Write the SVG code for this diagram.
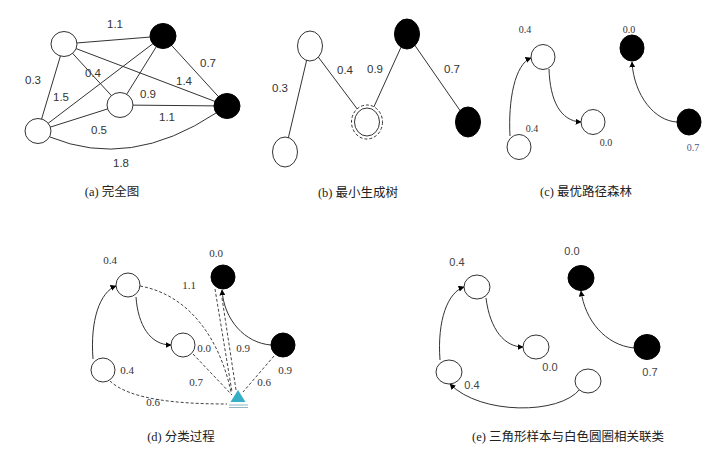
<svg xmlns="http://www.w3.org/2000/svg" width="711" height="452" viewBox="0 0 711 452">
<style>
.e{fill:none;stroke:#333;stroke-width:1}
.d{fill:none;stroke:#444;stroke-width:1;stroke-dasharray:3,2}
.w{fill:#fff;stroke:#333;stroke-width:1}
.b{fill:#000;stroke:#000;stroke-width:1}
.ls{font-family:"Liberation Sans",Arial,sans-serif;font-size:11.5px;fill:#333;text-anchor:middle}
.lt{font-family:"Liberation Serif","Times New Roman",serif;font-size:10px;fill:#333;text-anchor:middle}
.lt2{font-family:"Liberation Serif","Times New Roman",serif;font-size:11px;fill:#333;text-anchor:middle}
.le{font-family:"Liberation Sans",Arial,sans-serif;font-size:11px;fill:#444;text-anchor:middle}
.cap{font-family:"Liberation Serif","Noto Sans CJK SC",serif;font-size:12.5px;fill:#222;text-anchor:middle}
</style>
<defs>
<marker id="ar" viewBox="0 0 10 10" refX="9" refY="5" markerWidth="6" markerHeight="6" orient="auto" markerUnits="userSpaceOnUse">
<path d="M0,0 L10,5 L0,10 z" fill="#000"/>
</marker>
</defs>
<rect width="711" height="452" fill="#fff"/>

<!-- Panel a -->
<g id="connectors-a">
<line class="e" x1="64" y1="44" x2="163" y2="36"/>
<line class="e" x1="64" y1="44" x2="38" y2="131"/>
<line class="e" x1="64" y1="44" x2="120" y2="105"/>
<line class="e" x1="64" y1="44" x2="227" y2="106"/>
<line class="e" x1="38" y1="131" x2="163" y2="36"/>
<line class="e" x1="120" y1="105" x2="163" y2="36"/>
<line class="e" x1="163" y1="36" x2="227" y2="106"/>
<line class="e" x1="38" y1="131" x2="120" y2="105"/>
<line class="e" x1="120" y1="105" x2="227" y2="106"/>
<path class="e" d="M50,137 Q130,170 216,113"/>
</g>
<g id="a-n1"><ellipse class="w" cx="64" cy="44" rx="13" ry="12.5"/></g>
<g id="a-n2"><ellipse class="b" cx="163" cy="36" rx="13" ry="12.5"/></g>
<g id="a-n3"><ellipse class="w" cx="38" cy="131" rx="13" ry="12.5"/></g>
<g id="a-n4"><ellipse class="w" cx="120" cy="105" rx="13" ry="12.5"/></g>
<g id="a-n5"><ellipse class="b" cx="227" cy="106" rx="13" ry="12.5"/></g>
<g id="labels-a">
<text class="ls" x="115" y="28">1.1</text>
<text class="ls" x="33" y="84">0.3</text>
<text class="ls" x="93" y="77">0.4</text>
<text class="ls" x="61" y="101">1.5</text>
<text class="ls" x="148" y="98">0.9</text>
<text class="ls" x="184" y="85">1.4</text>
<text class="ls" x="208" y="67">0.7</text>
<text class="ls" x="167" y="121">1.1</text>
<text class="ls" x="99" y="134">0.5</text>
<text class="ls" x="121" y="167">1.8</text>
</g>
<text class="cap" x="112" y="196">(a) 完全图</text>

<!-- Panel b -->
<g id="connectors-b">
<line class="e" x1="285" y1="152" x2="310" y2="46"/>
<line class="e" x1="310" y1="46" x2="367" y2="122"/>
<line class="e" x1="367" y1="122" x2="407" y2="34"/>
<line class="e" x1="407" y1="34" x2="468" y2="122"/>
</g>
<g id="b-n1"><ellipse class="w" cx="310" cy="46" rx="12.5" ry="15"/></g>
<g id="b-n2"><ellipse class="w" cx="285" cy="152" rx="12.5" ry="15"/></g>
<g id="b-n3"><ellipse cx="367" cy="122" rx="15.5" ry="17" fill="#fff" stroke="#333" stroke-dasharray="3,2"/><ellipse class="w" cx="367" cy="122" rx="12.5" ry="14"/></g>
<g id="b-n4"><ellipse class="b" cx="407" cy="34" rx="12.5" ry="15"/></g>
<g id="b-n5"><ellipse class="b" cx="468" cy="122" rx="12.5" ry="15"/></g>
<g id="labels-b">
<text class="ls" x="280" y="92">0.3</text>
<text class="ls" x="345" y="74">0.4</text>
<text class="ls" x="375" y="73">0.9</text>
<text class="ls" x="452" y="73">0.7</text>
</g>
<text class="cap" x="358" y="197">(b) 最小生成树</text>

<!-- Panel c -->
<g id="connectors-c">
<path class="e" marker-end="url(#ar)" d="M510,136 C508,100 515,64 531,58"/>
<path class="e" marker-end="url(#ar)" d="M549,69 C550,100 560,121 581,122"/>
<path class="e" marker-end="url(#ar)" d="M677,122 C655,121 634,96 632,62"/>
</g>
<g id="c-n1"><ellipse class="w" cx="543" cy="57" rx="12" ry="12.5"/></g>
<g id="c-n2"><ellipse class="w" cx="519" cy="147" rx="12" ry="12.5"/></g>
<g id="c-n3"><ellipse class="w" cx="593" cy="122" rx="12" ry="12.5"/></g>
<g id="c-n4"><ellipse class="b" cx="632" cy="48" rx="12" ry="13"/></g>
<g id="c-n5"><ellipse class="b" cx="689" cy="122" rx="12" ry="13"/></g>
<g id="labels-c">
<text class="lt" x="525" y="33">0.4</text>
<text class="lt" x="532" y="132">0.4</text>
<text class="lt" x="606" y="146">0.0</text>
<text class="lt" x="629" y="33">0.0</text>
<text class="lt" x="693" y="151" style="fill:#4a5a85">0.7</text>
</g>
<text class="cap" x="586" y="196">(c) 最优路径森林</text>

<!-- Panel d -->
<g id="connectors-d">
<path class="e" marker-end="url(#ar)" d="M93,359 C90,320 100,292 116,286"/>
<path class="e" marker-end="url(#ar)" d="M136,297 C138,325 150,345 171,345"/>
<path class="e" marker-end="url(#ar)" d="M271,345 C245,343 224,320 222,290"/>
<path class="d" d="M140,286 C190,295 220,340 231,392"/>
<path class="d" d="M215,289 L232,392"/>
<path class="d" d="M222,298 L236,390"/>
<path class="d" d="M193,354 L232,395"/>
<path class="d" d="M110,381 C130,400 180,404 227,404"/>
<path class="d" d="M274,356 L243,392"/>
</g>
<g id="d-n1"><ellipse class="w" cx="128" cy="285" rx="12" ry="12"/></g>
<g id="d-n2"><ellipse class="w" cx="103" cy="370" rx="12" ry="12"/></g>
<g id="d-n3"><ellipse class="w" cx="183" cy="345" rx="12" ry="12"/></g>
<g id="d-n4"><ellipse class="b" cx="223" cy="277" rx="12" ry="12"/></g>
<g id="d-n5"><ellipse class="b" cx="283" cy="345" rx="12" ry="12"/></g>
<g id="d-tri"><polygon points="238,390 230.5,402 245.5,402" fill="#35aec6"/><line x1="229" y1="405" x2="248" y2="405" stroke="#8fb4c2" stroke-width="1"/><line x1="229" y1="407.5" x2="248" y2="407.5" stroke="#8fb4c2" stroke-width="1"/></g>
<g id="labels-d">
<text class="lt2" x="110" y="264">0.4</text>
<text class="lt2" x="189" y="289">1.1</text>
<text class="lt2" x="216" y="257">0.0</text>
<text class="lt2" x="204" y="352">0.0</text>
<text class="lt2" x="243" y="352">0.9</text>
<text class="lt2" x="127" y="374">0.4</text>
<text class="lt2" x="196" y="386">0.7</text>
<text class="lt2" x="264" y="386">0.6</text>
<text class="lt2" x="285" y="374">0.9</text>
<text class="lt2" x="153" y="406">0.6</text>
</g>
<text class="cap" x="181" y="441">(d) 分类过程</text>

<!-- Panel e -->
<g id="connectors-e">
<path class="e" marker-end="url(#ar)" d="M440,360 C437,320 448,292 464,287"/>
<path class="e" marker-end="url(#ar)" d="M486,298 C490,330 505,347 523,347"/>
<path class="e" marker-end="url(#ar)" d="M634,348 C605,345 585,320 581,291"/>
<path class="e" marker-end="url(#ar)" d="M580,389 C560,415 480,415 450,384"/>
</g>
<g id="e-n1"><ellipse class="w" cx="477" cy="287" rx="13" ry="12"/></g>
<g id="e-n2"><ellipse class="w" cx="536" cy="347" rx="13" ry="12"/></g>
<g id="e-n3"><ellipse class="w" cx="449" cy="372" rx="13" ry="12"/></g>
<g id="e-n4"><ellipse class="w" cx="588" cy="381" rx="13" ry="12"/></g>
<g id="e-n5"><ellipse class="b" cx="581" cy="278" rx="13" ry="12.5"/></g>
<g id="e-n6"><ellipse class="b" cx="647" cy="347" rx="13" ry="12.5"/></g>
<g id="labels-e">
<text class="le" x="457" y="266">0.4</text>
<text class="le" x="572" y="255">0.0</text>
<text class="le" x="550" y="371">0.0</text>
<text class="le" x="472" y="389">0.4</text>
<text class="le" x="650" y="376">0.7</text>
</g>
<text class="cap" x="568" y="441">(e) 三角形样本与白色圆圈相关联类</text>
</svg>
